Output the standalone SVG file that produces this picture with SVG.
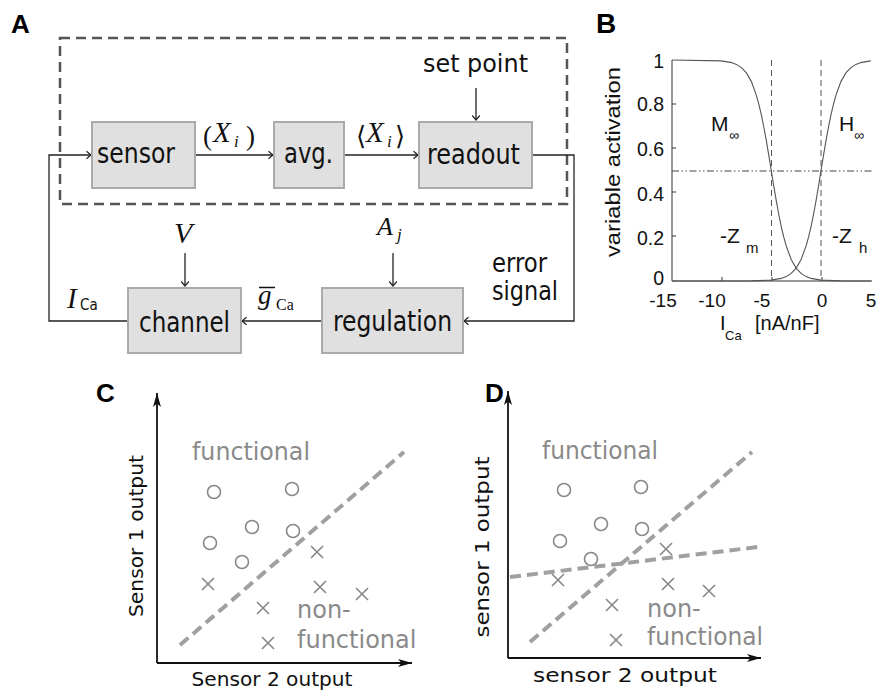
<svg xmlns="http://www.w3.org/2000/svg" xmlns:xlink="http://www.w3.org/1999/xlink" width="887" height="690" viewBox="0 0 887 690">
<style>
.lbl{font-family:"Liberation Sans",Arial,sans-serif;font-weight:bold;font-size:26px;fill:#000}
.box{fill:#e0e0e0;stroke:#aaaaaa;stroke-width:2}
.bt{font-family:"DejaVu Sans Condensed","DejaVu Sans",sans-serif;font-size:28px;fill:#111}
.mi{font-family:"Liberation Serif","Times New Roman",serif;font-style:italic;fill:#111}
.mr{font-family:"Liberation Serif","Times New Roman",serif;fill:#111}
.ln{fill:none;stroke:#222;stroke-width:1.3}
.hv{font-family:"Liberation Sans",Arial,sans-serif;fill:#111}
.crv{fill:none;stroke:#555;stroke-width:1.1}
.ax{fill:none;stroke:#333;stroke-width:1}
.vd{fill:none;stroke:#555;stroke-width:1;stroke-dasharray:6 4}
.gt{font-family:"DejaVu Sans",sans-serif;font-size:24px;fill:#8a8a8a}
.at{font-family:"DejaVu Sans",sans-serif;font-size:20px;fill:#111}
.sep{fill:none;stroke:#a0a0a0;stroke-width:4;stroke-dasharray:11 6}
.pt{fill:none;stroke:#888;stroke-width:1.6}
.axl{fill:none;stroke:#111;stroke-width:1.8}
</style>
<defs>
<marker id="ah" markerWidth="10" markerHeight="10" refX="7" refY="5" orient="auto" markerUnits="userSpaceOnUse"><path d="M2.5,1.2 L7,5 L2.5,8.8" fill="none" stroke="#222" stroke-width="1.2"/></marker>
<marker id="axh" markerWidth="16" markerHeight="10" refX="14" refY="5" orient="auto" markerUnits="userSpaceOnUse"><path d="M0,1 L14,5 L0,9 L3.5,5 Z" fill="#111"/></marker>
<circle id="o" r="6.5" class="pt"/>
<path id="x" d="M-6,-6 L6,6 M-6,6 L6,-6" class="pt"/>
</defs>
<rect width="887" height="690" fill="#fff"/>

<!-- Panel A -->
<text class="lbl" x="11" y="33">A</text>
<rect id="sensor-loop-frame" x="60" y="38" width="507" height="166" fill="none" stroke="#555" stroke-width="2.5" stroke-dasharray="10 6"/>

<g id="connectors-A">
<path class="ln" d="M195,155 L273,155" marker-end="url(#ah)"/>
<path class="ln" d="M344,155 L418,155" marker-end="url(#ah)"/>
<path class="ln" d="M476,88 L476,120" marker-end="url(#ah)"/>
<path class="ln" d="M532,155 L574,155 L574,321 L464,321" marker-end="url(#ah)"/>
<path class="ln" d="M322,321 L242,321" marker-end="url(#ah)"/>
<path class="ln" d="M128,321 L49,321 L49,155 L91,155" marker-end="url(#ah)"/>
<path class="ln" d="M185,253 L185,286" marker-end="url(#ah)"/>
<path class="ln" d="M393,253 L393,286" marker-end="url(#ah)"/>
</g>

<g id="sensor"><rect class="box" x="92" y="122" width="103" height="66"/><text class="bt" x="97" y="163" textLength="78" lengthAdjust="spacingAndGlyphs">sensor</text></g>
<g id="avg"><rect class="box" x="274" y="122" width="70" height="66"/><text class="bt" x="284" y="163" textLength="49" lengthAdjust="spacingAndGlyphs">avg.</text></g>
<g id="readout"><rect class="box" x="419" y="122" width="113" height="66"/><text class="bt" x="427" y="164" textLength="93" lengthAdjust="spacingAndGlyphs">readout</text></g>
<g id="channel"><rect class="box" x="128" y="288" width="113" height="65"/><text class="bt" x="139" y="332" textLength="91" lengthAdjust="spacingAndGlyphs">channel</text></g>
<g id="regulation"><rect class="box" x="322" y="288" width="141" height="65"/><text class="bt" x="333" y="331" textLength="119" lengthAdjust="spacingAndGlyphs">regulation</text></g>

<text class="bt" x="423" y="72" style="font-size:24px" textLength="105" lengthAdjust="spacingAndGlyphs">set point</text>
<text class="bt" x="492" y="272" style="font-size:26px" textLength="55" lengthAdjust="spacingAndGlyphs">error</text>
<text class="bt" x="492" y="300" style="font-size:26px" textLength="66" lengthAdjust="spacingAndGlyphs">signal</text>

<!-- math labels -->
<text class="mr" x="203" y="145" font-size="27">(</text>
<text class="mi" x="213" y="142" font-size="29">X</text>
<text class="mi" x="234" y="147" font-size="17">i</text>
<text class="mr" x="246" y="145" font-size="27">)</text>

<text x="356" y="145" font-size="26" font-family="DejaVu Serif,DejaVu Sans,serif" fill="#111">⟨</text>
<text class="mi" x="366" y="142" font-size="29">X</text>
<text class="mi" x="387" y="147" font-size="17">i</text>
<text x="395" y="145" font-size="26" font-family="DejaVu Serif,DejaVu Sans,serif" fill="#111">⟩</text>

<text class="mi" x="174" y="243" font-size="30">V</text>
<text class="mi" x="377" y="235" font-size="26">A</text>
<text class="mi" x="397" y="240" font-size="17">j</text>

<text class="mi" x="67" y="308" font-size="29">I</text>
<text x="80" y="310" font-size="15" font-family="DejaVu Sans Condensed,DejaVu Sans,sans-serif" fill="#111">Ca</text>

<text class="mi" x="258" y="304" font-size="27">g</text>
<line x1="259" y1="287.5" x2="275" y2="287.5" stroke="#111" stroke-width="1.5"/>
<text class="mr" x="276" y="310" font-size="16">Ca</text>

<!-- Panel B -->
<text class="lbl" x="596" y="33" style="font-size:28px">B</text>
<g id="plot-B">
<path class="ax" d="M672,60 L672,281 L872,281"/>
<path class="ax" d="M672,104 h4 M672,148 h4 M672,192 h4 M672,236 h4 M722,281 v-4 M772,281 v-4 M822,281 v-4"/>
<path class="vd" d="M771.5,60 L771.5,281 M821,60 L821,281"/>
<path fill="none" stroke="#444" stroke-width="1" stroke-dasharray="7 2.5 1.5 2.5 1.5 2.5" d="M672,171 L872,171"/>
<polyline class="crv" points="672,60 721.5,60.85 731.5,62.6 736.4,64.4 741.4,67.6 746.4,72.95 751.4,81.6 756.3,95.1 758.8,104.1 761.3,114.7 763.8,127 766.3,140.6 768.8,155.3 771.25,170.5 773.7,185.7 776.2,200.4 778.7,214 781.2,226.3 783.7,236.9 786.2,245.9 791.2,259.4 796.1,268.05 801.1,273.4 806.1,276.6 811.1,278.4 821,280.15 840.9,280.9 871,281"/>
<polyline class="crv" points="672,281 721.25,281 751.35,280.9 771.25,280.15 781.2,278.4 786.2,276.6 791.2,273.4 796.2,268.05 801.1,259.4 806.1,245.9 808.6,236.9 811.1,226.3 813.6,214 816.1,200.4 818.6,185.7 821,170.5 823.5,155.3 826,140.6 828.5,127 831,114.7 833.5,104.1 836,95.1 840.9,81.6 845.9,72.95 850.9,67.6 855.9,64.4 860.8,62.6 870.75,60.85"/>
<g class="hv" font-size="19.5" text-anchor="end">
<text x="664" y="68">1</text>
<text x="664" y="111">0.8</text>
<text x="664" y="156">0.6</text>
<text x="664" y="201">0.4</text>
<text x="664" y="245">0.2</text>
<text x="664" y="285">0</text>
</g>
<g class="hv" font-size="19" text-anchor="middle">
<text x="663" y="307">-15</text>
<text x="712" y="307">-10</text>
<text x="762" y="307">-5</text>
<text x="822" y="307">0</text>
<text x="871" y="307">5</text>
</g>
<text class="hv" font-size="20" transform="translate(620,162) rotate(-90)" text-anchor="middle" textLength="190" lengthAdjust="spacingAndGlyphs">variable activation</text>
<text class="hv" x="720" y="330" font-size="20">I</text>
<text class="hv" x="725" y="340" font-size="13">Ca</text>
<text class="hv" x="755" y="330" font-size="20">[nA/nF]</text>
<text class="hv" x="711" y="131" font-size="21">M</text>
<text class="hv" x="729" y="140" font-size="14">∞</text>
<text class="hv" x="839" y="131" font-size="21">H</text>
<text class="hv" x="854" y="140" font-size="14">∞</text>
<text class="hv" x="720" y="243" font-size="21">-Z</text>
<text class="hv" x="746" y="253" font-size="15">m</text>
<text class="hv" x="832" y="243" font-size="21">-Z</text>
<text class="hv" x="859" y="253" font-size="15">h</text>
</g>

<!-- Panel C -->
<text class="lbl" x="96" y="402">C</text>
<g id="plot-C">
<path class="axl" d="M157,663 L157,393" marker-end="url(#axh)"/>
<path class="axl" d="M157,663 L412,663" marker-end="url(#axh)"/>
<path class="sep" d="M180,645 L404,452"/>
<use xlink:href="#o" x="214" y="492"/><use xlink:href="#o" x="292" y="489"/><use xlink:href="#o" x="252" y="527"/>
<use xlink:href="#o" x="293" y="531"/><use xlink:href="#o" x="210" y="543"/><use xlink:href="#o" x="242" y="562"/>
<use xlink:href="#x" x="208" y="584"/><use xlink:href="#x" x="317" y="552"/><use xlink:href="#x" x="320" y="587"/>
<use xlink:href="#x" x="362" y="594"/><use xlink:href="#x" x="263" y="608"/><use xlink:href="#x" x="268" y="643"/>
<text class="gt" x="192" y="460" textLength="118" lengthAdjust="spacingAndGlyphs">functional</text>
<text class="gt" x="297" y="618">non-</text>
<text class="gt" x="297" y="648">functional</text>
<text class="at" transform="translate(143,536) rotate(-90)" text-anchor="middle" font-size="19.5" textLength="162" lengthAdjust="spacingAndGlyphs">Sensor 1 output</text>
<text class="at" x="272" y="686" text-anchor="middle" font-size="19.5" textLength="161" lengthAdjust="spacingAndGlyphs">Sensor 2 output</text>
</g>

<!-- Panel D -->
<text class="lbl" x="485" y="402">D</text>
<g id="plot-D">
<path class="axl" d="M508,658 L508,391" marker-end="url(#axh)"/>
<path class="axl" d="M508,658 L761,658" marker-end="url(#axh)"/>
<path class="sep" d="M530,642 L752,452"/>
<path class="sep" d="M510,577 L758,547"/>
<use xlink:href="#o" x="564" y="490"/><use xlink:href="#o" x="641" y="487"/><use xlink:href="#o" x="601" y="524"/>
<use xlink:href="#o" x="642" y="529"/><use xlink:href="#o" x="560" y="541"/><use xlink:href="#o" x="591" y="559"/>
<use xlink:href="#x" x="558" y="580"/><use xlink:href="#x" x="666" y="549"/><use xlink:href="#x" x="668" y="584"/>
<use xlink:href="#x" x="709" y="591"/><use xlink:href="#x" x="612" y="605"/><use xlink:href="#x" x="616" y="640"/>
<text class="gt" x="542" y="459" textLength="116" lengthAdjust="spacingAndGlyphs">functional</text>
<text class="gt" x="647" y="617">non-</text>
<text class="gt" x="647" y="645" textLength="116" lengthAdjust="spacingAndGlyphs">functional</text>
<text class="at" transform="translate(489,547) rotate(-90)" text-anchor="middle" font-size="21" textLength="181" lengthAdjust="spacingAndGlyphs">sensor 1 output</text>
<text class="at" x="625" y="682" text-anchor="middle" font-size="21" textLength="184" lengthAdjust="spacingAndGlyphs">sensor 2 output</text>
</g>
</svg>
